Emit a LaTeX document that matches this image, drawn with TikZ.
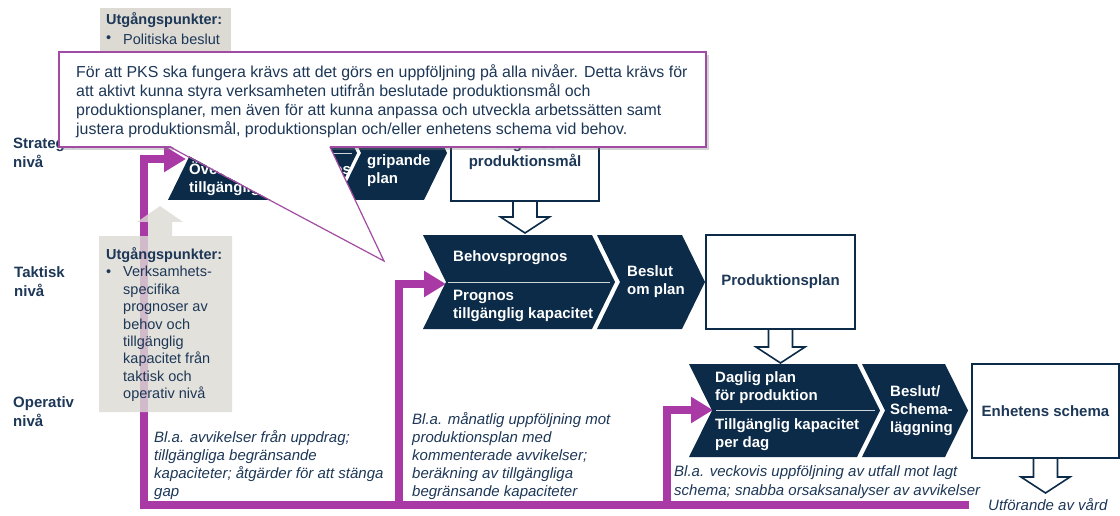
\documentclass[tikz,border=0pt]{standalone}
\usepackage{fontspec}
\setmainfont{Liberation Sans}
\usetikzlibrary{arrows.meta,shadows}

\definecolor{navy}{HTML}{0B2B48}
\definecolor{ink}{HTML}{1D3757}
\definecolor{pale}{HTML}{DCDAD3}
\definecolor{fbpurple}{HTML}{A93AA5}
\definecolor{calloutline}{HTML}{A24BA2}

% chevron: left, right, top, bottom, notch depth
\newcommand\chevshape[5]{%
  \fill[navy] (#1,#3) -- (#2,#3) -- ({#2+#5},{(#3+#4)/2}) -- (#2,#4) -- (#1,#4)
    -- ({#1+#5},{(#3+#4)/2}) -- cycle;}
% hollow down arrow hanging below an anchor: anchor, shaft length
\newcommand\hollowdown[2]{%
  \draw[hollow] (#1) ++(-12,0) -- ++(0,#2) -- ++(-12.5,0) -- ++(24.5,16)
    -- ++(24.5,-16) -- ++(-12.5,0) -- ++(0,-#2) -- cycle;}

\begin{document}
\begin{tikzpicture}[x=1pt,y=-1pt,
  divider/.style={draw=white!80!navy, line width=0.8pt},
  ctext/.style={text=white, font={\bfseries\fontsize{15}{18}\selectfont},
    align=left, anchor=west, inner sep=0},
  planbox/.style={draw=navy, line width=1.8pt, fill=white, outer sep=0,
    inner sep=0, text=ink, align=center,
    font={\bfseries\fontsize{15}{18}\selectfont}},
  hollow/.style={draw=navy, line width=1.6pt, fill=white, line join=miter},
  level/.style={text=ink, font={\bfseries\fontsize{15}{19}\selectfont},
    align=left, anchor=west, inner sep=0},
  note/.style={text=ink, font={\itshape\fontsize{15}{18.2}\selectfont},
    align=left, anchor=west, inner sep=0},
  greytext/.style={text=ink, font={\fontsize{14.5}{17.45}\selectfont},
    align=left, anchor=west, inner sep=0},
  fbline/.style={draw=fbpurple, line width=7.5pt, line join=miter},
  fbarrow/.style={fbline, -{Triangle[length=22pt,width=25pt]}},
]
\useasboundingbox (0,0) rectangle (1120,516);

% ---------- feedback loops ----------
\coordinate (fbEnd) at (969,505);
\coordinate (fbBase) at (144,505);
\coordinate (j1) at (399,505);
\coordinate (j2) at (667,505);
\coordinate (stratIn) at (186,159);
\coordinate (tactIn) at (446,284);
\coordinate (operIn) at (713,410);
\draw[fbarrow] (fbEnd) -- (fbBase) |- (stratIn);
\draw[fbarrow] (j1) |- (tactIn);
\draw[fbarrow] (j2) |- (operIn);

% ---------- lower starting points box with arrow ----------
\fill[pale, fill opacity=0.8] (99,236) -- (148,236) -- (148,222) -- (137,222)
  -- (160,206) -- (183,222) -- (172,222) -- (172,236) -- (232,236)
  -- (232,412) -- (99,412) -- cycle;
\node[greytext, font={\bfseries\fontsize{14.5}{17.45}\selectfont}] (gb2t) at (106,255) {Utgångspunkter:};
\node[greytext] (gb2b) at (106,273) {•};
\node[greytext] (gb2l) at (123,334) {Verksamhets-\\specifika\\prognoser av\\behov och\\tillgänglig\\kapacitet från\\taktisk och\\operativ nivå};

% ---------- level labels ----------
\node[level] (lvS) at (13,152.5) {Strategisk\\nivå};
\node[level] (lvT) at (14,282) {Taktisk\\nivå};
\node[level] (lvO) at (13,412) {Operativ\\nivå};

% ---------- strategic level ----------
\chevshape{168}{334}{106}{200}{23}
\chevshape{338}{424}{106}{200}{23}
\draw[divider] (193,153) -- (352,153);
\node[ctext] (s1b) at (189,178.5) {Övergripande prognos\\tillgänglig kapacitet};
\node[ctext] (s2) at (367,162) {till över-\\gripande\\plan};
\node[planbox, minimum width=148, minimum height=95] (budget) at (525,153.5) {Budget och\\produktionsmål};
\hollowdown{budget.south}{16}

% ---------- tactical level ----------
\chevshape{423}{592}{235}{329}{23}
\chevshape{597}{682}{235}{329}{23}
\draw[divider] (448,282) -- (610,282);
\node[ctext] (t1a) at (453,258) {Behovsprognos};
\node[ctext] (t1b) at (453,306) {Prognos\\tillgänglig kapacitet};
\node[ctext] (t2) at (627,282) {Beslut\\om plan};
\node[planbox, minimum width=149, minimum height=94] (pplan) at (780.5,282) {Produktionsplan};
\hollowdown{pplan.south}{18}

% ---------- operative level ----------
\chevshape{689}{857}{364}{457}{23}
\chevshape{862}{945}{364}{457}{23}
\draw[divider] (716,410.5) -- (875,410.5);
\node[ctext] (o1a) at (715,388) {Daglig plan\\för produktion};
\node[ctext] (o1b) at (715,435) {Tillgänglig kapacitet\\per dag};
\node[ctext] (o2) at (890,411) {Beslut/\\Schema-\\läggning};
\node[planbox, minimum width=147, minimum height=94] (schema) at (1045.5,411) {Enhetens schema};
\hollowdown{schema.south}{19}

% ---------- follow-up notes ----------
\node[note] (noteA) at (154,465) {Bl.a. avvikelser från uppdrag;\\tillgängliga begränsande\\kapaciteter; åtgärder för att stänga\\gap};
\node[note] (noteB) at (412,456) {Bl.a. månatlig uppföljning mot\\produktionsplan med\\kommenterade avvikelser;\\beräkning av tillgängliga\\begränsande kapaciteter};
\node[note, font={\itshape\fontsize{15}{19}\selectfont}] (noteC) at (674,482.5) {Bl.a. veckovis uppföljning av utfall mot lagt\\schema; snabba orsaksanalyser av avvikelser};
\node[note] (care) at (988,505) {Utförande av vård};

% ---------- upper starting points box ----------
\fill[pale] (100,8) rectangle (231,120);
\node[greytext, font={\bfseries\fontsize{14.5}{17.45}\selectfont}] (gb1t) at (106,20) {Utgångspunkter:};
\node[greytext] (gb1b) at (106,39) {•};
\node[greytext] (gb1l) at (123,39) {Politiska beslut};

% ---------- callout ----------
\draw[calloutline, line width=1.2pt, fill=white,
  drop shadow={shadow xshift=3pt, shadow yshift=-3pt, opacity=0.35}]
  (59,52) rectangle (706,147);
\fill[white] (170.5,146) -- (384,261) -- (329.5,146) -- cycle;
\draw[calloutline, line width=1.2pt] (170,147) -- (384,261) -- (330,147);
\node[anchor=west, inner sep=0, align=left, text=ink,
  font={\fontsize{15.9}{19}\selectfont}] (callout) at (76,101.5)
  {För att PKS ska fungera krävs att det görs en uppföljning på alla nivåer. Detta krävs för\\
   att aktivt kunna styra verksamheten utifrån beslutade produktionsmål och\\
   produktionsplaner, men även för att kunna anpassa och utveckla arbetssätten samt\\
   justera produktionsmål, produktionsplan och/eller enhetens schema vid behov.};
\end{tikzpicture}
\end{document}
